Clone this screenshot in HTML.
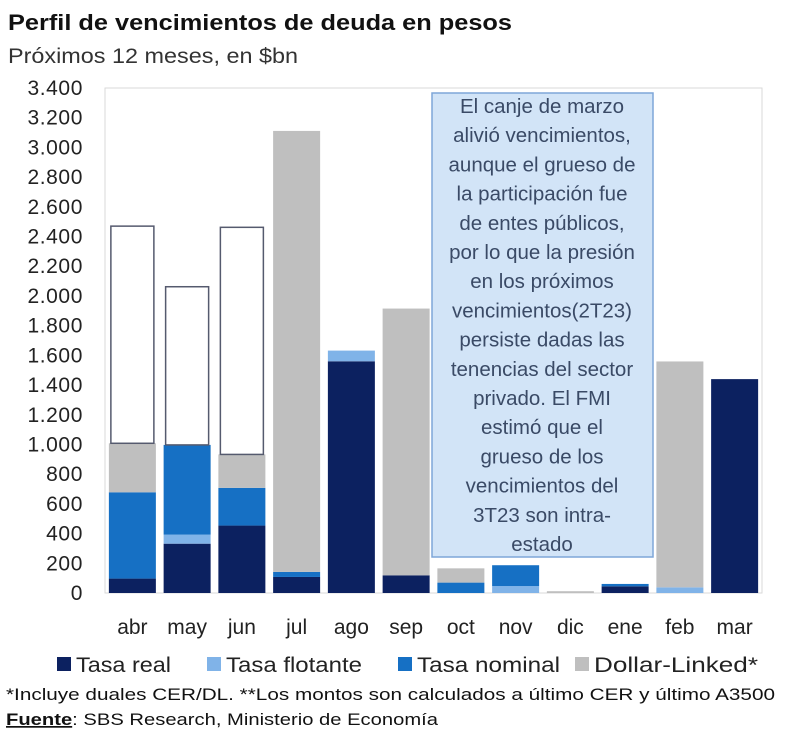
<!DOCTYPE html>
<html><head><meta charset="utf-8"><style>
body{margin:0;background:#fff;font-family:"Liberation Sans",sans-serif;}
#wrap{position:relative;width:800px;height:739px;overflow:hidden}
svg text{font-family:"Liberation Sans",sans-serif}
</style></head><body><div id="wrap">
<svg id="chart" width="800" height="739">
<text x="8" y="30" font-size="22" font-weight="bold" fill="#111" textLength="504" lengthAdjust="spacingAndGlyphs">Perfil de vencimientos de deuda en pesos</text>
<text x="8" y="63" font-size="21" fill="#333" textLength="290" lengthAdjust="spacingAndGlyphs">Próximos 12 meses, en $bn</text>
<rect x="105" y="88" width="657" height="505" fill="none" stroke="#d9d9d9"/>
<g id="yaxis"></g><g id="bars"></g><g id="xaxis"></g>
<g>
<rect x="432" y="93" width="221" height="464" fill="#d2e4f7" stroke="#7ea6d8" stroke-width="1.5"/>
<text id="note" x="542" font-size="20.5" fill="#3a4a66" text-anchor="middle"></text>
</g>
<g id="legend"></g>
<text x="6" y="700" font-size="17" fill="#111" textLength="769" lengthAdjust="spacingAndGlyphs">*Incluye duales CER/DL. **Los montos son calculados a último CER y último A3500</text>
<text x="6" y="725" font-size="17" fill="#111" textLength="432" lengthAdjust="spacingAndGlyphs"><tspan font-weight="bold" text-decoration="underline">Fuente</tspan>: SBS Research, Ministerio de Economía</text>
</svg></div>
<script>
const categories=["abr","may","jun","jul","ago","sep","oct","nov","dic","ene","feb","mar"];
const tasaReal=[97,332,454,108,1560,119,0,0,0,45,0,1440];
const tasaFlotante=[0,61,0,0,72,0,0,47,0,0,38,0];
const tasaNominal=[581,604,254,34,0,0,70,140,0,16,0,0];
const dollarLinked=[330,0,225,2969,0,1796,96,0,12,0,1521,0];
const otros=[1462,1065,1529,0,0,0,0,0,0,0,0,0];
const yTicks=[0,200,400,600,800,1000,1200,1400,1600,1800,2000,2200,2400,2600,2800,3000,3200,3400];
const noteLines=["El canje de marzo","alivió vencimientos,","aunque el grueso de","la participación fue","de entes públicos,","por lo que la presión","en los próximos","vencimientos(2T23)","persiste dadas las","tenencias del sector","privado. El FMI","estimó que el","grueso de los","vencimientos del","3T23 son intra-","estado"];
const NS="http://www.w3.org/2000/svg";
const L=105,R=762,T=88,B=593,YMAX=3400;
const y=v=>B-(v/YMAX)*(B-T);
const band=(R-L)/categories.length;
const xc=i=>L+band*(i+0.5);
function mk(t,a,p){const e=document.createElementNS(NS,t);for(const k in a)e.setAttribute(k,a[k]);p.appendChild(e);return e;}
const ya=document.getElementById('yaxis');
yTicks.forEach(v=>{const t=mk('text',{x:83,y:y(v)+7,'font-size':21,fill:'#222','text-anchor':'end','letter-spacing':'0.6'},ya);


t.textContent=v.toLocaleString('de-DE');});
const bg=document.getElementById('bars');
const series=[[tasaReal,'#0c2160','tasa-real'],[tasaFlotante,'#80b3e8','tasa-flotante'],[tasaNominal,'#1670c4','tasa-nominal'],[dollarLinked,'#bfbfbf','dollar-linked'],[otros,'#ffffff','otros']];
const bw=47;
categories.forEach((c,i)=>{let acc=0;series.forEach(([arr,col,nm])=>{const v=arr[i];if(!v)return;
const r=mk('rect',{x:xc(i)-bw/2,y:y(acc+v),width:bw,height:y(acc)-y(acc+v),fill:col},bg);
if(nm==='otros'){r.setAttribute('stroke','#555a6e');r.setAttribute('stroke-width','1.5');r.setAttribute('x',xc(i)-bw/2+2);r.setAttribute('width',bw-4);}


acc+=v;});
const t=mk('text',{x:xc(i),y:634,'font-size':21,fill:'#222','text-anchor':'middle'},document.getElementById('xaxis'));


t.textContent=c;});
const note=document.getElementById('note');
noteLines.forEach((s,i)=>{const ts=mk('tspan',{x:542,y:113+i*29.2},note);ts.textContent=s;});
const lg=document.getElementById('legend');
[['Tasa real','#0c2160',57,95],['Tasa flotante','#80b3e8',207,136],['Tasa nominal','#1670c4',398,143],['Dollar-Linked*','#bfbfbf',575,164]].forEach(([n,c,x,w])=>{
const g=mk('g',{},lg);


mk('rect',{x:x,y:657,width:14,height:14,fill:c},g);
const t=mk('text',{x:x+19,y:672,'font-size':21,fill:'#222',textLength:w,lengthAdjust:'spacingAndGlyphs'},g);t.textContent=n;});
</script></body></html>
